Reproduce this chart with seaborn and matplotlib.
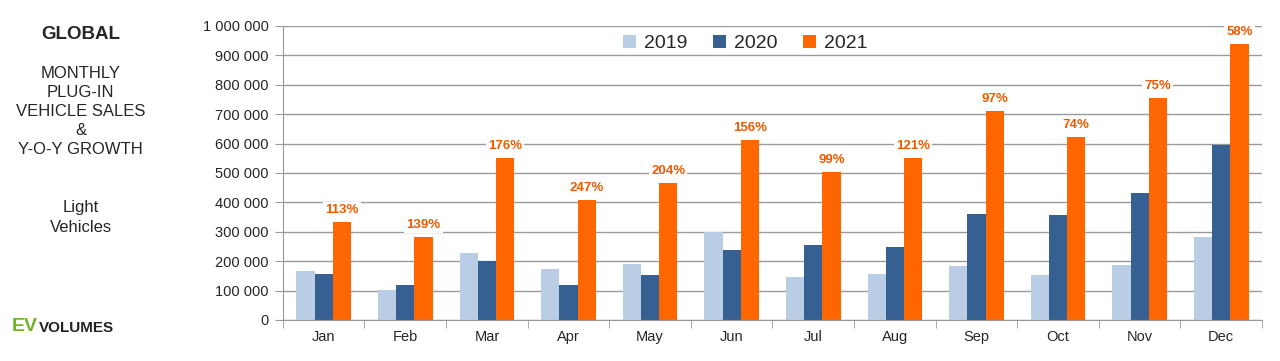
import pandas as pd
import matplotlib.pyplot as plt
import matplotlib.ticker as mticker
import seaborn as sns

months = ["Jan", "Feb", "Mar", "Apr", "May", "Jun", "Jul", "Aug", "Sep", "Oct", "Nov", "Dec"]
sales_2019 = [167000, 102000, 228000, 173000, 190000, 299000, 146000, 156000, 184000, 153000, 187000, 282000]
sales_2020 = [156000, 119000, 200000, 119000, 153000, 238000, 255000, 248000, 361000, 357000, 432000, 595000]
sales_2021 = [333000, 282000, 551000, 408000, 466000, 612000, 503000, 551000, 711000, 622000, 755000, 939000]
growth_labels = ["113%", "139%", "176%", "247%", "204%", "156%", "99%", "121%", "97%", "74%", "75%", "58%"]

df = pd.DataFrame({"Month": months * 3,
                   "Year": ["2019"] * 12 + ["2020"] * 12 + ["2021"] * 12,
                   "Sales": sales_2019 + sales_2020 + sales_2021})

sns.set_style("white")
plt.rcParams['font.family'] = ['Liberation Sans', 'DejaVu Sans']

fig = plt.figure(figsize=(12.8, 3.61), dpi=100)
ax = fig.add_axes([0.221, 0.1136, 0.765, 0.8144])

palette = {"2019": "#B9CDE5", "2020": "#376092", "2021": "#FF6600"}
sns.barplot(data=df, x="Month", y="Sales", hue="Year", palette=palette,
            width=0.67, gap=0, saturation=1, ax=ax, linewidth=0)

ax.set_ylim(0, 1000000)
ax.set_xlim(-0.5, 11.5)
ax.yaxis.set_major_locator(mticker.MultipleLocator(100000))
ax.yaxis.set_major_formatter(mticker.FuncFormatter(lambda v, p: f"{int(v):,}".replace(",", " ")))
ax.grid(axis="y", color="#9a9a9a", linewidth=1)
ax.set_axisbelow(True)
for s in ["top", "right"]:
    ax.spines[s].set_visible(False)
ax.spines["left"].set_color("#9a9a9a")
ax.spines["bottom"].set_color("#9a9a9a")
ax.tick_params(axis="y", left=True, length=6, color="#9a9a9a", labelsize=10.5, pad=4)
ax.set_xticks(range(12))
ax.set_xticklabels(months)
ax.tick_params(axis="x", bottom=False, labelsize=10.5, pad=4)
ax.set_xticks([i + 0.5 for i in range(-1, 12)], minor=True)
ax.tick_params(axis="x", which="minor", bottom=True, length=6, color="#9a9a9a")
ax.set_xlabel("")
ax.set_ylabel("")

# growth labels above the 2021 bars
for i, lab in enumerate(growth_labels):
    ax.text(i + 0.223, sales_2021[i] + 20000, lab, ha="center", va="bottom",
            color="#F05A00", fontsize=9.5, fontweight="bold",
            bbox=dict(facecolor="white", edgecolor="none", pad=1.5))

ax.legend(loc="center", bbox_to_anchor=(0.472, 0.94), ncol=3, frameon=False,
          fontsize=14, handlelength=0.7, handleheight=0.7, columnspacing=1.3,
          handletextpad=0.4)

# left side text block
fig.text(0.063, 0.905, "GLOBAL", ha="center", va="center", fontsize=13.5, fontweight="bold")
fig.text(0.063, 0.691, "MONTHLY\nPLUG-IN\nVEHICLE SALES\n&\nY-O-Y GROWTH",
         ha="center", va="center", fontsize=12, linespacing=1.33)
fig.text(0.063, 0.397, "Light\nVehicles", ha="center", va="center", fontsize=12, linespacing=1.4)
fig.text(0.009, 0.095, "EV", ha="left", va="center", fontsize=14, fontweight="bold", color="#72B22A")
fig.text(0.0305, 0.092, "VOLUMES", ha="left", va="center", fontsize=11, fontweight="bold", color="#222222")

fig.savefig("out.png", dpi=100)
